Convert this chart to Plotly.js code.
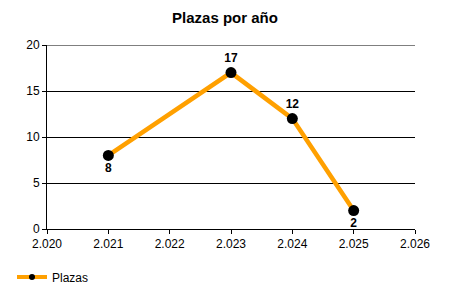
<!DOCTYPE html>
<html>
<head>
<meta charset="utf-8">
<script src="https://cdn.plot.ly/plotly-3.0.1.min.js"></script>
<style>html,body{margin:0;padding:0;background:#fff;}#chart{width:450px;height:300px;}</style>
</head>
<body>
<div id="chart"></div>
<script>
const years = [2021, 2023, 2024, 2025];
const plazas = [8, 17, 12, 2];
const labelPositions = ['bottom center', 'top center', 'top center', 'bottom center'];
const xTickVals = [2020, 2021, 2022, 2023, 2024, 2025, 2026];
const xTickText = ['2.020', '2.021', '2.022', '2.023', '2.024', '2.025', '2.026'];
const yTickVals = [0, 5, 10, 15, 20];
const seriesName = 'Plazas';

const FONT = 'Liberation Sans, Arial, sans-serif';

const trace = {
  x: years,
  y: plazas,
  type: 'scatter',
  mode: 'lines+markers+text',
  name: seriesName,
  showlegend: false,
  line: {color: '#FFA000', width: 4.5},
  marker: {color: '#000000', size: 11},
  text: plazas.map(String),
  textposition: labelPositions,
  textfont: {family: FONT, size: 12, color: '#000', weight: 'bold'},
  cliponaxis: false
};

const legendTrace = {
  x: [null], y: [null],
  type: 'scatter',
  mode: 'lines+markers',
  name: seriesName,
  showlegend: true,
  line: {color: '#FFA000', width: 4},
  marker: {color: '#000000', size: 6}
};

const layout = {
  width: 450, height: 300,
  margin: {l: 47, r: 35, t: 45, b: 71},
  paper_bgcolor: '#fff', plot_bgcolor: '#fff',
  font: {family: FONT, size: 12, color: '#000'},
  title: {text: '<b>Plazas por año</b>', x: 0.5, xref: 'container', y: 1 - 18/300, yref: 'container', yanchor: 'middle',
          font: {family: FONT, size: 15, color: '#000'}},
  xaxis: {range: [xTickVals[0], xTickVals[xTickVals.length-1]], tickvals: xTickVals, ticktext: xTickText, showgrid: false, zeroline: false,
          showline: true, linecolor: '#000', linewidth: 1, ticks: 'outside', ticklen: 4, tickcolor: '#000'},
  yaxis: {range: [yTickVals[0], yTickVals[yTickVals.length-1]], tickvals: yTickVals, showgrid: true, gridcolor: '#000', gridwidth: 1, zeroline: false,
          showline: true, linecolor: '#000', linewidth: 1, ticks: 'outside', ticklen: 4, tickcolor: '#000'},
  shapes: [{type: 'line', xref: 'paper', yref: 'y', x0: 0, x1: 1,
            y0: yTickVals[yTickVals.length-1], y1: yTickVals[yTickVals.length-1],
            line: {color: '#000', width: 1}, layer: 'below'}],
  showlegend: true,
  legend: {orientation: 'h', x: 12/450, xref: 'container', xanchor: 'left', y: 1 - 277/300, yref: 'container', yanchor: 'middle',
           font: {family: FONT, size: 12, color: '#000'}, itemwidth: 30}
};

Plotly.newPlot('chart', [trace, legendTrace], layout, {displayModeBar: false, staticPlot: true});
</script>
</body>
</html>
